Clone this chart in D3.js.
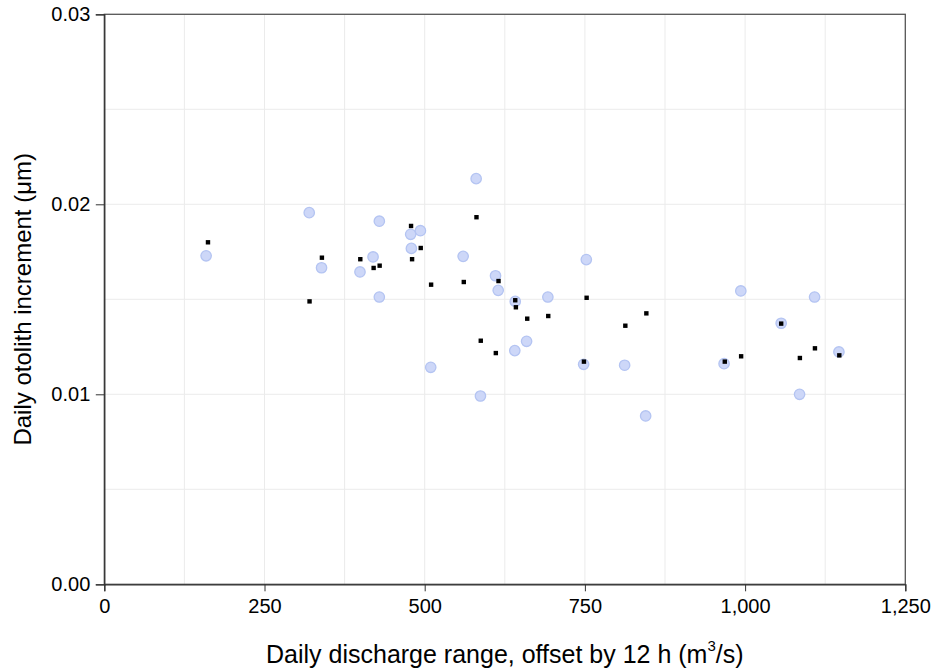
<!DOCTYPE html>
<html>
<head>
<meta charset="utf-8">
<script src="https://cdn.jsdelivr.net/npm/d3@7"></script>
<style>
  html, body { margin: 0; padding: 0; background: #fff; }
  svg { display: block; font-family: Arial, "Liberation Sans", sans-serif; }
</style>
</head>
<body>
<div id="chart"></div>
<script>
// Open circles: discharge range vs observed increment
const circleX = [158.9, 319.8, 339, 399, 419.4, 429.2, 429.2, 478.1, 479.2, 493.3,
  509.4, 560, 580.3, 587, 610.5, 614.7, 640.6, 641.3, 659, 692.2,
  748, 752.2, 812, 844.8, 967.2, 993.3, 1056.3, 1085, 1108.4, 1146.4];
const circleY = [0.01729, 0.01956, 0.01666, 0.01644, 0.01723, 0.01911, 0.01512, 0.01842, 0.01768, 0.01861,
  0.01142, 0.01726, 0.02135, 0.00991, 0.01624, 0.01547, 0.01230, 0.01489, 0.01279, 0.01512,
  0.01158, 0.01709, 0.01153, 0.00886, 0.01161, 0.01544, 0.01374, 0.01000, 0.01512, 0.01223];

// Small black squares
const squareX = [161.8, 320.3, 339.6, 399.5, 420.3, 429.7, 478.7, 480.3, 493.8, 510,
  561, 580.8, 587.5, 611, 615.2, 641.3, 642.3, 660, 692.8, 748.5,
  752.7, 813.1, 845.9, 968.3, 993.8, 1056.3, 1085.5, 1109, 1147];
const squareY = [0.01800, 0.01489, 0.01719, 0.01711, 0.01665, 0.01677, 0.01886, 0.01711, 0.01770, 0.01577,
  0.01591, 0.01932, 0.01282, 0.01217, 0.01596, 0.01495, 0.01458, 0.01398, 0.01412, 0.01172,
  0.01508, 0.01361, 0.01426, 0.01172, 0.01200, 0.01372, 0.01191, 0.01242, 0.01205];

const xTicks = [0, 250, 500, 750, 1000, 1250];
const yTicks = [0, 0.01, 0.02, 0.03];
const xGrid = [125, 250, 375, 500, 625, 750, 875, 1000, 1125];
const yGrid = [0.005, 0.01, 0.015, 0.02, 0.025];

const W = 934, H = 670;
const margin = {top: 14.3, right: 28.7, bottom: 85.7, left: 104.3};
const width = W - margin.left - margin.right;
const height = H - margin.top - margin.bottom;

const svg = d3.select('#chart').append('svg').attr('width', W).attr('height', H);
const g = svg.append('g').attr('transform', `translate(${margin.left},${margin.top})`);

const x = d3.scaleLinear().domain([0, 1250]).range([0, width]);
const y = d3.scaleLinear().domain([0, 0.03]).range([height, 0]);

// grid
g.selectAll('line.gx').data(xGrid).enter().append('line')
  .attr('x1', d => x(d)).attr('x2', d => x(d)).attr('y1', 0).attr('y2', height)
  .attr('stroke', '#ebebeb').attr('stroke-width', 1);
g.selectAll('line.gy').data(yGrid).enter().append('line')
  .attr('y1', d => y(d)).attr('y2', d => y(d)).attr('x1', 0).attr('x2', width)
  .attr('stroke', '#ebebeb').attr('stroke-width', 1);

// frame
g.append('rect').attr('x', 0).attr('y', 0).attr('width', width).attr('height', height)
  .attr('fill', 'none').attr('stroke', '#555').attr('stroke-width', 1.3);

const circles = circleX.map((v, i) => ({x: v, y: circleY[i]}));
const squares = squareX.map((v, i) => ({x: v, y: squareY[i]}));

g.selectAll('circle').data(circles).enter().append('circle')
  .attr('cx', d => x(d.x)).attr('cy', d => y(d.y)).attr('r', 5.2)
  .attr('fill', '#cdd7f8').attr('stroke', '#b4c4f2').attr('stroke-width', 1.3);

const s = 4.4;
g.selectAll('rect.sq').data(squares).enter().append('rect')
  .attr('class', 'sq')
  .attr('x', d => x(d.x) - s / 2).attr('y', d => y(d.y) - s / 2)
  .attr('width', s).attr('height', s).attr('fill', '#000');

const fmtX = d3.format(',');
const xAxis = g.append('g').attr('transform', `translate(0,${height})`)
  .call(d3.axisBottom(x).tickValues(xTicks).tickFormat(fmtX).tickSizeOuter(0).tickSize(7).tickPadding(8));
const yAxis = g.append('g')
  .call(d3.axisLeft(y).tickValues(yTicks).tickFormat(d3.format('.2f')).tickSizeOuter(0).tickSize(8.5).tickPadding(5.5));

[xAxis, yAxis].forEach(ax => {
  ax.select('.domain').attr('stroke', '#333').attr('stroke-width', 1.3);
  ax.selectAll('.tick line').attr('stroke', '#333').attr('stroke-width', 1);
  ax.selectAll('.tick text').attr('font-size', 20).attr('fill', '#000')
    .attr('font-family', 'Arial, "Liberation Sans", sans-serif');
});

// axis titles
const xTitle = svg.append('text')
  .attr('x', margin.left + width / 2).attr('y', 663)
  .attr('text-anchor', 'middle').attr('font-size', 25).attr('fill', '#000');
xTitle.append('tspan').text('Daily discharge range, offset by 12 h (m');
xTitle.append('tspan').attr('dy', -12).attr('font-size', 15).text('3');
xTitle.append('tspan').attr('dy', 12).text('/s)');

svg.append('text')
  .attr('transform', `translate(31,${margin.top + height / 2}) rotate(-90)`)
  .attr('text-anchor', 'middle').attr('font-size', 24).attr('fill', '#000')
  .text('Daily otolith increment (\u03bcm)');
</script>
</body>
</html>
